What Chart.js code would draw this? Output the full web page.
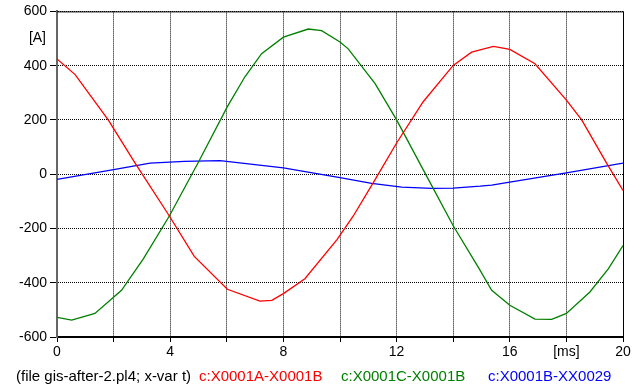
<!DOCTYPE html>
<html>
<head>
<meta charset="utf-8">
<script src="https://cdn.jsdelivr.net/npm/chart.js@4.4.1/dist/chart.umd.min.js"></script>
<style>
  html, body { margin: 0; padding: 0; background: #fff; }
  #wrap { width: 643px; height: 388px; position: relative; }
</style>
</head>
<body>
<div id="wrap"><canvas id="plot"></canvas></div>
<script>
// Time axis (ms) and currents (A) for the three branches
const tA = [0, 0.64, 1.81, 2.76, 3.97, 4.85, 6.02, 7.17, 7.59, 8.0, 8.76, 9.9, 10.47, 11.24, 12.0, 12.94, 14.0, 14.65, 15.42, 16.0, 16.89, 18.0, 18.54, 19.42, 20];
const iA = [425, 367, 200, 41, -154, -303, -424, -468, -465, -440, -385, -240, -154, -20, 115, 267, 401, 450, 471, 460, 407, 273, 200, 41, -60];

const tC = [0, 0.52, 1.34, 2.28, 3.05, 3.97, 5.0, 6.02, 6.64, 7.23, 8.0, 8.88, 9.35, 10.0, 10.29, 11.24, 12.0, 13.0, 14.0, 14.9, 15.36, 16.0, 16.89, 17.48, 18.0, 18.83, 19.48, 20];
const iC = [-528, -538, -513, -428, -312, -154, 45, 249, 359, 444, 505, 535, 529, 487, 462, 334, 200, 5, -190, -345, -428, -483, -534, -535, -513, -434, -349, -263];

const tB = [0, 2, 3.29, 4.5, 5.76, 8, 10, 11.12, 12.18, 13.24, 14, 14.95, 15.36, 16, 18, 20];
const iB = [-19, 17, 41, 47, 50, 23, -13, -34, -48, -52, -51, -44, -40, -29, 5, 41];

const seriesNames = ['c:X0001A-X0001B', 'c:X0001C-X0001B', 'c:X0001B-XX0029'];
const seriesColors = ['#ff0000', '#008000', '#0000ff'];
const footerText = '(file gis-after-2.pl4; x-var t)';
const xUnit = '[ms]';
const yUnit = '[A]';

const FONT = 'Liberation Sans, Arial, sans-serif';

function pairs(ts, vs) {
  return ts.map((t, i) => ({ x: t, y: vs[i] }));
}

// frame, unit label and file/legend line under the axis
const extras = {
  id: 'extras',
  afterDraw(chart) {
    const { ctx, chartArea: a, scales } = chart;
    ctx.save();
    ctx.strokeStyle = '#000';
    ctx.lineWidth = 1;
    ctx.beginPath();
    ctx.moveTo(a.left, a.top + 0.5);
    ctx.lineTo(a.right + 0.5, a.top + 0.5);
    ctx.lineTo(a.right + 0.5, a.bottom);
    ctx.stroke();

    ctx.font = '14px ' + FONT;
    ctx.fillStyle = '#000';
    ctx.textAlign = 'right';
    ctx.textBaseline = 'middle';
    ctx.fillText(yUnit, 46, scales.y.getPixelForValue(500));

    ctx.textAlign = 'left';
    ctx.font = '15px ' + FONT;
    ctx.fillText(footerText, 16, 377);
    const starts = [199, 341, 488];
    seriesNames.forEach((name, i) => {
      ctx.fillStyle = seriesColors[i];
      ctx.fillText(name, starts[i], 377);
    });
    ctx.restore();
  }
};

const gridOpts = { color: '#000', tickColor: '#000', tickBorderDash: [] };

new Chart(document.getElementById('plot'), {
  type: 'line',
  data: {
    datasets: [
      { label: seriesNames[0], data: pairs(tA, iA), borderColor: seriesColors[0] },
      { label: seriesNames[1], data: pairs(tC, iC), borderColor: seriesColors[1] },
      { label: seriesNames[2], data: pairs(tB, iB), borderColor: seriesColors[2] }
    ]
  },
  options: {
    responsive: true,
    maintainAspectRatio: false,
    animation: false,
    events: [],
    layout: { padding: { left: 0, top: 9, right: 20, bottom: 0 } },
    elements: {
      line: { borderWidth: 1.3, tension: 0, fill: false },
      point: { radius: 0 }
    },
    plugins: {
      legend: { display: false },
      tooltip: { enabled: false }
    },
    scales: {
      x: {
        type: 'linear',
        min: 0,
        max: 20,
        afterFit: s => { s.height = 51; },
        border: { color: '#000', width: 2, dash: [1, 1] },
        grid: { ...gridOpts, tickLength: 5 },
        ticks: {
          stepSize: 2,
          maxRotation: 0,
          autoSkip: false,
          padding: 2,
          color: '#000',
          font: { family: FONT, size: 14 },
          callback: v => v % 4 === 0 ? v : (v === 18 ? xUnit : '')
        }
      },
      y: {
        min: -600,
        max: 600,
        afterFit: s => { s.width = 57; },
        border: { color: '#666', width: 2, dash: [1, 1] },
        grid: { ...gridOpts, tickLength: 7 },
        ticks: {
          stepSize: 200,
          padding: 3,
          color: '#000',
          font: { family: FONT, size: 14 }
        }
      }
    }
  },
  plugins: [extras]
});
</script>
</body>
</html>
